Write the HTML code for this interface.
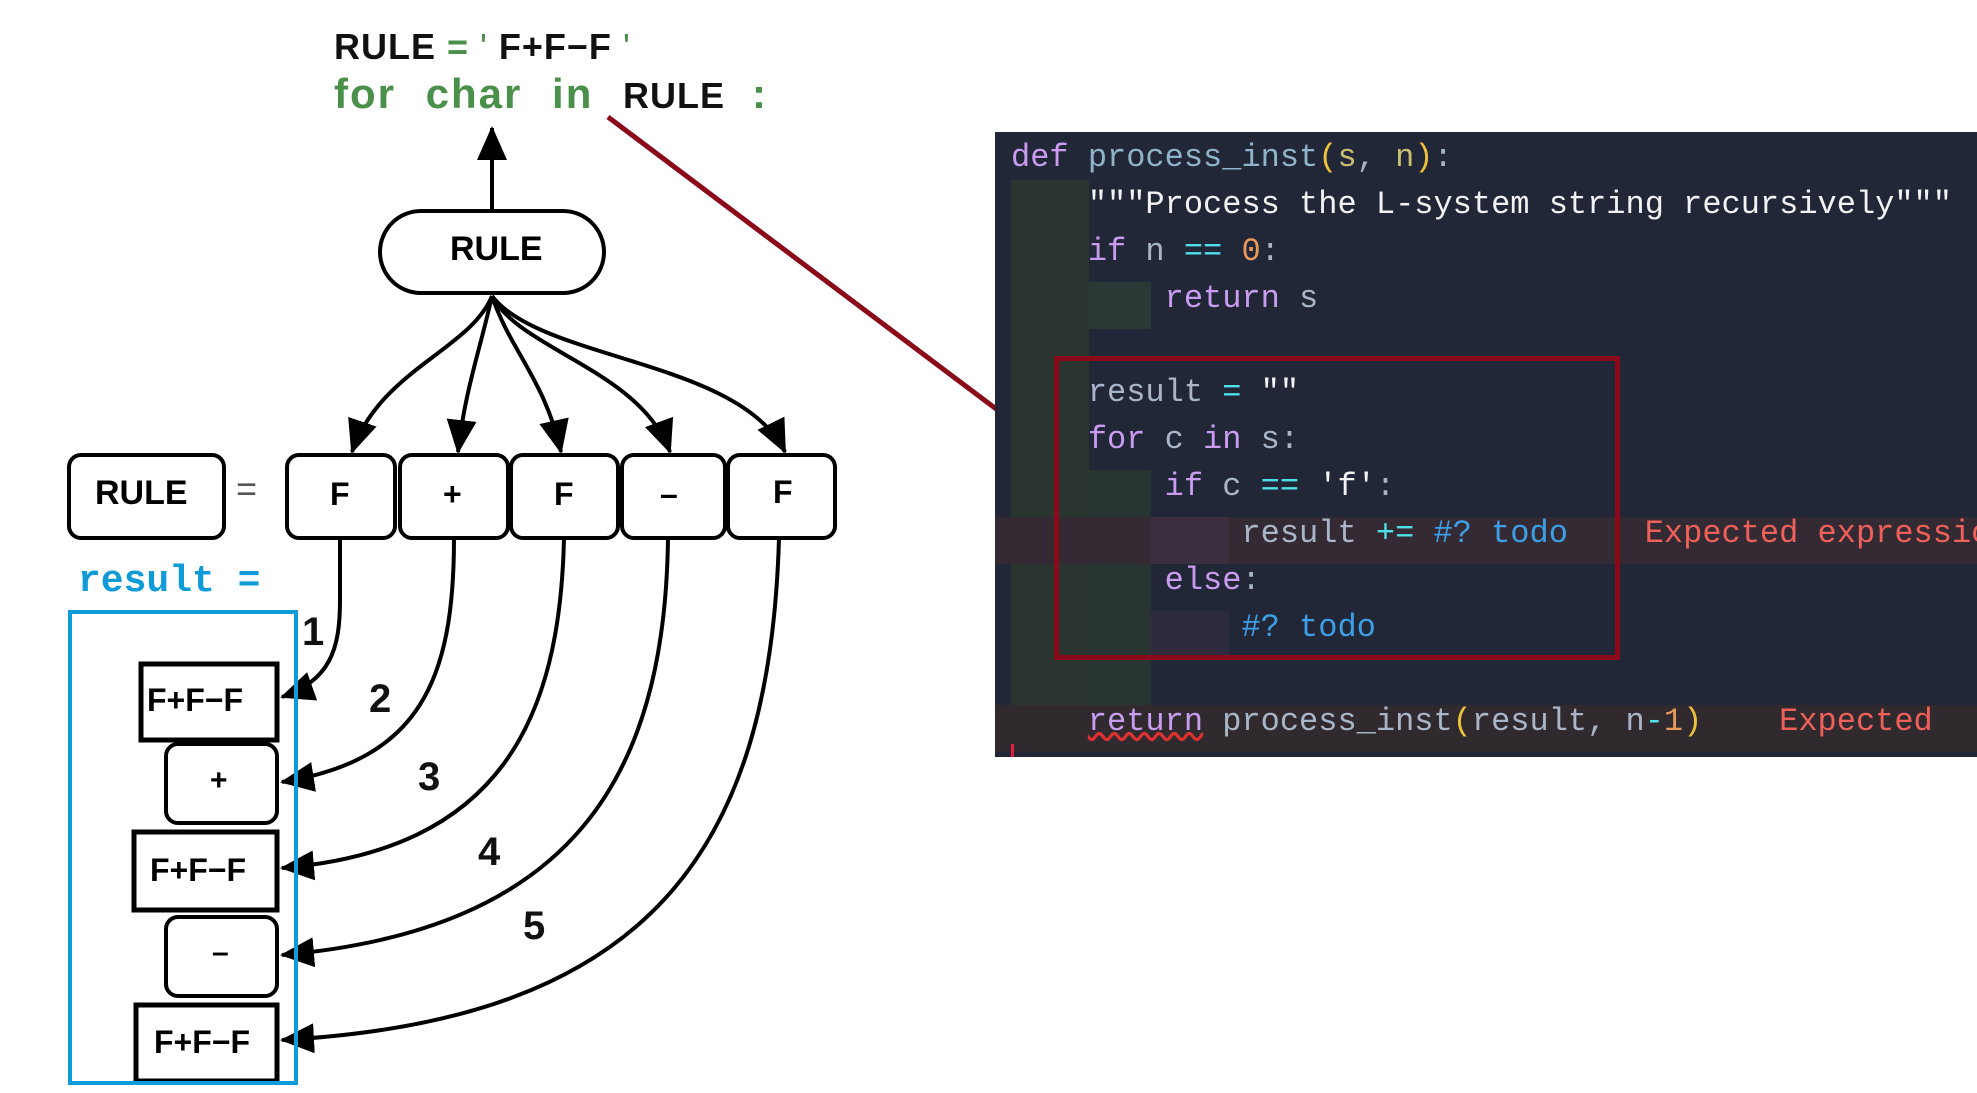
<!DOCTYPE html>
<html><head><meta charset="utf-8"><style>
body{margin:0;width:1977px;height:1093px;background:#fff;overflow:hidden;position:relative;font-family:"Liberation Sans",sans-serif}
.t{position:absolute;white-space:pre}
.code{position:absolute;left:995px;top:132px;width:982px;height:625px;background:#222737;overflow:hidden}
.ln{position:absolute;left:16px;font-family:"Liberation Mono",monospace;font-size:32px;white-space:pre;color:#a9b6c9}
.kw{color:#c99cf0}.fn{color:#8fb3c8}.op{color:#4fe0e8}.cm{color:#3d9fe6}.er{color:#f0605a}.nm{color:#e89a5a}.pr{color:#eec23c}.wh{color:#f2f2f2}
.num{position:absolute;font-size:40px;font-weight:bold;color:#111}
</style></head><body>
<div class="t" style="left:334px;top:26px;font-size:36px;font-weight:bold;color:#111;letter-spacing:1px">RULE<span style="color:#4a8f4a"> = </span><span style="color:#4a8f4a;font-weight:normal">'</span> F+F−F<span style="color:#4a8f4a;font-weight:normal"> '</span></div>
<div class="t" style="left:334px;top:70px;font-size:42px;font-weight:bold;color:#4a8f4a;letter-spacing:2px;word-spacing:16px">for char in <span style="color:#111;font-size:36px;letter-spacing:1px">RULE </span>:</div>

<svg width="1977" height="1093" style="position:absolute;left:0;top:0">
<defs>
<marker id="b" markerWidth="34" markerHeight="30" refX="32" refY="15" orient="auto" markerUnits="userSpaceOnUse"><path d="M0,0 L34,15 L0,30z" fill="#000"/></marker></defs>
<g stroke="#000" stroke-width="4" fill="none">
<line x1="492" y1="210" x2="492" y2="128" marker-end="url(#b)"/>
<rect x="380" y="211" width="224" height="82" rx="41" fill="#fff"/>
<path d="M492,296 C470,350 380,370 352,452" marker-end="url(#b)"/>
<path d="M492,296 C480,350 465,390 458,452" marker-end="url(#b)"/>
<path d="M492,296 C510,350 545,380 561,452" marker-end="url(#b)"/>
<path d="M492,296 C520,350 640,370 670,452" marker-end="url(#b)"/>
<path d="M492,296 C540,360 740,360 785,452" marker-end="url(#b)"/>
<rect x="69" y="455" width="155" height="83" rx="12" fill="#fff"/>
<rect x="287" y="455" width="108" height="83" rx="12" fill="#fff"/>
<rect x="400" y="455" width="108" height="83" rx="12" fill="#fff"/>
<rect x="511" y="455" width="107" height="83" rx="12" fill="#fff"/>
<rect x="622" y="455" width="103" height="83" rx="12" fill="#fff"/>
<rect x="728" y="455" width="107" height="83" rx="12" fill="#fff"/>
<path d="M340,538 L340,600 C340,650 330,680 282,697" marker-end="url(#b)"/>
<path d="M454,538 C454,680 420,760 282,782" marker-end="url(#b)"/>
<path d="M564,538 C560,720 500,850 282,868" marker-end="url(#b)"/>
<path d="M668,538 C665,780 570,930 282,955" marker-end="url(#b)"/>
<path d="M779,538 C770,850 650,1020 282,1040" marker-end="url(#b)"/>
<rect x="166" y="744" width="111" height="79" rx="12" fill="#fff"/>
<rect x="166" y="917" width="111" height="79" rx="12" fill="#fff"/>
<rect x="141" y="664" width="136" height="76" fill="#fff" stroke-width="5"/>
<rect x="134" y="832" width="143" height="78" fill="#fff" stroke-width="5"/>
<rect x="136" y="1005" width="141" height="76" fill="#fff" stroke-width="5"/>
</g>
<rect x="70" y="612" width="226" height="471" fill="none" stroke="#0e9bd8" stroke-width="4"/>
<line x1="608" y1="117" x2="1056" y2="454" stroke="#8b0a1a" stroke-width="5"/>
</svg>
<div class="t" style="left:450px;top:230px;font-size:34px;font-weight:bold">RULE</div>
<div class="t" style="left:95px;top:474px;font-size:34px;font-weight:bold">RULE</div>
<div class="t" style="left:236px;top:468px;font-size:36px;color:#555">=</div>
<div class="t" style="left:330px;top:476px;font-size:32px;font-weight:bold">F</div>
<div class="t" style="left:443px;top:476px;font-size:32px;font-weight:bold">+</div>
<div class="t" style="left:554px;top:476px;font-size:32px;font-weight:bold">F</div>
<div class="t" style="left:660px;top:476px;font-size:32px;font-weight:bold">–</div>
<div class="t" style="left:773px;top:474px;font-size:32px;font-weight:bold">F</div>
<div class="t" style="left:78px;top:560px;font-size:38px;font-weight:bold;color:#0e9bd8;font-family:'Liberation Mono',monospace">result =</div>
<div class="t" style="left:147px;top:682px;font-size:32px;font-weight:bold">F+F−F</div>
<div class="t" style="left:210px;top:764px;font-size:30px;font-weight:bold">+</div>
<div class="t" style="left:150px;top:852px;font-size:32px;font-weight:bold">F+F−F</div>
<div class="t" style="left:212px;top:936px;font-size:30px;font-weight:bold">–</div>
<div class="t" style="left:154px;top:1024px;font-size:32px;font-weight:bold">F+F−F</div>
<div class="num" style="left:302px;top:610px">1</div>
<div class="num" style="left:369px;top:677px">2</div>
<div class="num" style="left:418px;top:755px">3</div>
<div class="num" style="left:478px;top:830px">4</div>
<div class="num" style="left:523px;top:904px">5</div>

<div class="code">
<div style="position:absolute;left:16px;top:48px;width:78px;height:570px;background:#2b3530"></div>
<div style="position:absolute;left:94px;top:150px;width:62px;height:47px;background:#2b3835"></div>
<div style="position:absolute;left:94px;top:338px;width:62px;height:235px;background:#283533"></div>
<div style="position:absolute;left:0;top:385px;width:982px;height:47px;background:#342a33"></div>
<div style="position:absolute;left:156px;top:385px;width:78px;height:47px;background:#3b2e3e"></div>
<div style="position:absolute;left:156px;top:479px;width:78px;height:47px;background:#2e2b3c"></div>
<div style="position:absolute;left:0;top:573px;width:982px;height:47px;background:#302a2f"></div>
<div style="position:absolute;left:16px;top:612px;width:3px;height:13px;background:#e02040"></div>
<div class="ln" style="top:7px"><span class="kw">def</span> <span class="fn">process_inst</span><span class="pr">(</span><span style="color:#c8c070">s</span>, <span style="color:#c8c070">n</span><span class="pr">)</span>:</div>
<div class="ln wh" style="top:54px">    """Process the L-system string recursively"""</div>
<div class="ln" style="top:101px">    <span class="kw">if</span> n <span class="op">==</span> <span class="nm">0</span>:</div>
<div class="ln" style="top:148px">        <span class="kw">return</span> s</div>
<div class="ln" style="top:242px">    result <span class="op">=</span> <span class="wh">""</span></div>
<div class="ln" style="top:289px">    <span class="kw">for</span> c <span class="kw">in</span> s:</div>
<div class="ln" style="top:336px">        <span class="kw">if</span> c <span class="op">==</span> <span class="wh">'f'</span>:</div>
<div class="ln" style="top:383px">            result <span class="op">+=</span> <span class="cm">#? todo</span>    <span class="er">Expected expression</span></div>
<div class="ln" style="top:430px">        <span class="kw">else</span>:</div>
<div class="ln" style="top:477px">            <span class="cm">#? todo</span></div>
<div class="ln" style="top:571px">    <span class="kw" style="text-decoration:underline wavy #e03030">return</span> process_inst<span class="pr">(</span>result, n<span class="op">-</span><span class="nm">1</span><span class="pr">)</span>    <span class="er">Expected</span></div>
<div style="position:absolute;left:59px;top:224px;width:566px;height:304px;border:5px solid #8b0a1a;box-sizing:border-box"></div>
</div>
</body></html>
